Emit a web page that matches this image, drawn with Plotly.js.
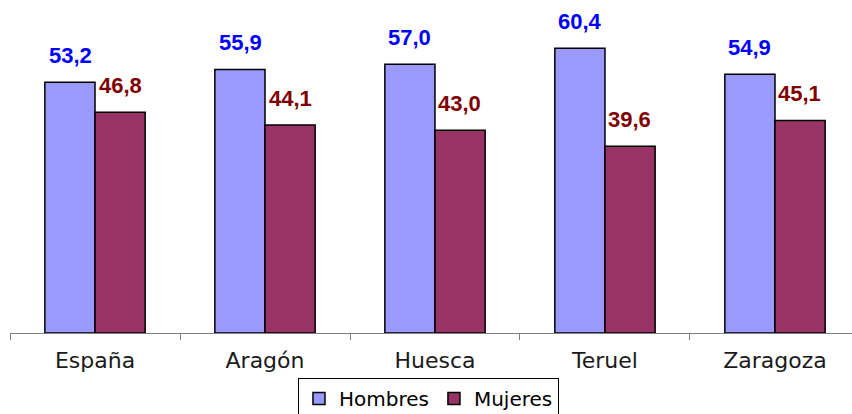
<!DOCTYPE html>
<html>
<head>
<meta charset="utf-8">
<script src="https://cdn.plot.ly/plotly-3.0.1.min.js"></script>
<style>html,body{margin:0;padding:0;background:#fff;}#chart{width:852px;height:414px;}</style>
</head>
<body>
<div id="chart"></div>
<script>
const categories = ["España", "Aragón", "Huesca", "Teruel", "Zaragoza"];
const hombres = [53.2, 55.9, 57.0, 60.4, 54.9];
const mujeres = [46.8, 44.1, 43.0, 39.6, 45.1];
const seriesNames = ["Hombres", "Mujeres"];

const fmt = v => v.toFixed(1).replace(".", ",");

const traces = [
  {type: "bar", name: seriesNames[0], x: categories, y: hombres,
   marker: {color: "#9999FF", line: {color: "#000000", width: 1.5}}, hoverinfo: "none"},
  {type: "bar", name: seriesNames[1], x: categories, y: mujeres,
   marker: {color: "#993366", line: {color: "#000000", width: 1.5}}, hoverinfo: "none"}
];

const annotations = [];
categories.forEach((c, i) => {
  annotations.push({x: c, y: hombres[i], xref: "x", yref: "y", text: fmt(hombres[i]),
    showarrow: false, xanchor: "center", yanchor: "bottom", xshift: -25, yshift: 12,
    font: {family: "Liberation Sans, Arial, sans-serif", size: 22, color: "#0000FF", weight: "bold"}});
  annotations.push({x: c, y: mujeres[i], xref: "x", yref: "y", text: fmt(mujeres[i]),
    showarrow: false, xanchor: "center", yanchor: "bottom", xshift: 25, yshift: 12,
    font: {family: "Liberation Sans, Arial, sans-serif", size: 22, color: "#800000", weight: "bold"}});
});

const layout = {
  width: 852, height: 414,
  margin: {l: 10, r: 0, t: 3, b: 81, autoexpand: false},
  paper_bgcolor: "#ffffff", plot_bgcolor: "#ffffff",
  barmode: "group", bargap: 0.41, bargroupgap: 0,
  showlegend: true,
  legend: {orientation: "h", x: 0.497, xanchor: "center", y: -0.136, yanchor: "top",
    bordercolor: "#000000", borderwidth: 1, bgcolor: "#ffffff",
    font: {family: "DejaVu Sans, Verdana, sans-serif", size: 20, color: "#000000"},
    itemwidth: 30, traceorder: "normal"},
  xaxis: {type: "category", range: [-0.5, 4.453], showline: true, linecolor: "#808080", linewidth: 1,
    ticks: "outside", tickson: "boundaries", ticklen: 6, tickcolor: "#808080", tickwidth: 1,
    showgrid: false, zeroline: false, ticklabelstandoff: 8,
    tickfont: {family: "DejaVu Sans, Verdana, sans-serif", size: 22, color: "#1a1a1a"}},
  yaxis: {range: [0, 70], visible: false, showgrid: false, zeroline: false},
  annotations: annotations
};

Plotly.newPlot("chart", traces, layout, {displayModeBar: false, staticPlot: true});
</script>
</body>
</html>
